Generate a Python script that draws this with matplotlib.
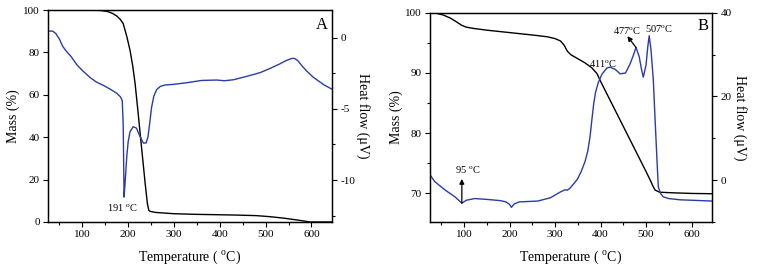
import matplotlib
matplotlib.use('Agg')
import matplotlib.pyplot as plt
from matplotlib.ticker import MultipleLocator

plt.rcParams['font.family'] = ['Liberation Serif', 'DejaVu Serif']
plt.rcParams['mathtext.fontset'] = 'custom'
plt.rcParams['mathtext.rm'] = 'Liberation Serif'
plt.rcParams['axes.unicode_minus'] = False

BLUE = '#2a3ca6'

# Panel A - mass loss (left axis) and heat flow (right axis)
a_mass_t = [25, 100, 140, 155, 165, 175, 183, 189, 197, 204, 210, 215, 220, 226, 232,
            237, 242, 245, 248, 260, 300, 350, 430, 480, 510, 540, 560, 580, 597, 645]
a_mass = [100, 100, 99.8, 99.3, 98.5, 97.2, 95.5, 93.7, 87.5, 81, 73.5, 65.4, 55, 42, 29,
          18.3, 8.5, 5.5, 5.0, 4.5, 3.9, 3.6, 3.3, 3.0, 2.5, 1.8, 1.2, 0.6, 0.0, 0.0]

a_heat_t = [25, 35, 42, 50, 57, 65, 75, 88, 100, 117, 130, 146, 160, 175, 183, 187, 189,
            190, 191, 193, 195, 197, 200, 204, 211, 218, 226, 233, 239, 243, 247, 251, 256,
            262, 270, 280, 300, 330, 360, 393, 410, 430, 460, 488, 510, 530, 545, 557, 563,
            570, 580, 590, 605, 627, 645]
a_heat = [0.47, 0.47, 0.3, -0.1, -0.6, -0.95, -1.3, -1.9, -2.3, -2.8, -3.1, -3.35, -3.6,
          -3.9, -4.15, -4.4, -6.0, -8.5, -11.2, -10.3, -9.3, -8.3, -7.3, -6.6, -6.25, -6.35,
          -6.95, -7.4, -7.4, -7.0, -6.0, -4.9, -4.1, -3.65, -3.42, -3.32, -3.27, -3.15, -3.0,
          -2.97, -3.02, -2.95, -2.7, -2.45, -2.15, -1.85, -1.6, -1.45, -1.45, -1.6, -2.0,
          -2.35, -2.8, -3.3, -3.62]

# Panel B
b_mass_t = [25, 40, 55, 70, 85, 95, 105, 120, 150, 200, 250, 283, 300, 312, 320, 327, 335,
            349, 365, 380, 392, 400, 420, 440, 460, 480, 500, 509, 515, 520, 530, 560, 600, 645]
b_mass = [100, 99.9, 99.6, 99.1, 98.4, 97.9, 97.6, 97.4, 97.1, 96.7, 96.3, 96.0, 95.7, 95.3,
          94.6, 93.6, 93.0, 92.4, 91.7, 90.9, 89.9, 88.6, 85.6, 82.6, 79.6, 76.6, 73.6, 72.2,
          71.2, 70.5, 70.15, 70.05, 69.95, 69.9]

b_heat_t = [25, 28, 35, 45, 60, 80, 95, 105, 123, 150, 180, 192, 200, 204, 210, 221, 262,
            290, 312, 322, 327, 333, 340, 349, 358, 366, 372, 377, 381, 385, 389, 395, 403,
            414, 421, 432, 443, 455, 465, 472, 478, 485, 490, 494, 500, 504, 507, 511, 516,
            520, 524, 527, 532, 538, 550, 575, 600, 645]
b_heat = [1.4, 0.8, -0.3, -1.2, -2.5, -4.0, -5.5, -4.8, -4.4, -4.6, -4.9, -5.2, -5.8, -6.5,
          -5.7, -5.2, -5.0, -4.2, -2.8, -2.3, -2.4, -1.9, -1.0, 0.2, 2.2, 4.5, 7.0, 10.5,
          14.5, 18.3, 21, 23.3, 25.3, 26.8, 27.0, 26.5, 25.4, 25.6, 27.8, 29.8, 31.7, 29.5,
          26.5, 24.6, 27.5, 32, 34.5, 31, 24, 14.3, 5, -1.6, -3.2, -4, -4.4, -4.7, -4.8, -5.0]

TICK_FS = 8
NOTE_FS = 7.5
LABEL_FS = 10


def style_axis(ax):
    ax.tick_params(which='both', direction='out', labelsize=TICK_FS, top=False, width=0.8)
    ax.tick_params(which='major', length=3.5, pad=2.5)
    ax.tick_params(which='minor', length=2)
    for s in ax.spines.values():
        s.set_linewidth(0.9)


fig = plt.figure(figsize=(7.6, 2.7), dpi=100)

# ---- A ----
axA = fig.add_axes([0.0632, 0.1778, 0.3737, 0.785])
axA.plot(a_mass_t, a_mass, color='black', lw=1.0)
axA.set_xlim(25, 645)
axA.set_ylim(0, 100)
axA.xaxis.set_major_locator(MultipleLocator(100))
axA.xaxis.set_minor_locator(MultipleLocator(50))
axA.yaxis.set_major_locator(MultipleLocator(20))
axA.set_xlabel('Temperature ( $^{\\rm o}$C)', fontsize=LABEL_FS, va='center')
axA.set_ylabel('Mass (%)', fontsize=LABEL_FS, va='center')
axA.xaxis.set_label_coords(0.5, -0.165)
axA.yaxis.set_label_coords(-0.123, 0.5)
style_axis(axA)

axA2 = axA.twinx()
axA2.plot(a_heat_t, a_heat, color=BLUE, lw=1.0)
axA2.set_ylim(-12.95, 1.95)
axA2.yaxis.set_major_locator(MultipleLocator(5))
axA2.yaxis.set_minor_locator(MultipleLocator(2.5))
axA2.set_ylabel('Heat flow (μV)', fontsize=LABEL_FS, rotation=270, va='center')
axA2.yaxis.set_label_coords(1.109, 0.5)
style_axis(axA2)
axA2.text(0.986, 0.965, 'A', transform=axA.transAxes, ha='right', va='top', fontsize=12)
axA.text(186, 6.6, '191 $^{\\rm o}$C', ha='center', va='center', fontsize=NOTE_FS)

# ---- B ----
axB = fig.add_axes([0.5658, 0.1778, 0.371, 0.775])
axB.plot(b_mass_t, b_mass, color='black', lw=1.0)
axB.set_xlim(25, 645)
axB.set_ylim(65.2, 100)
axB.xaxis.set_major_locator(MultipleLocator(100))
axB.xaxis.set_minor_locator(MultipleLocator(50))
axB.yaxis.set_major_locator(MultipleLocator(10))
axB.yaxis.set_minor_locator(MultipleLocator(5))
axB.set_xlabel('Temperature ( $^{\\rm o}$C)', fontsize=LABEL_FS, va='center')
axB.set_ylabel('Mass (%)', fontsize=LABEL_FS, va='center')
axB.xaxis.set_label_coords(0.5, -0.167)
axB.yaxis.set_label_coords(-0.12, 0.5)
style_axis(axB)

axB2 = axB.twinx()
axB2.plot(b_heat_t, b_heat, color=BLUE, lw=1.0)
axB2.set_ylim(-10, 40)
axB2.yaxis.set_major_locator(MultipleLocator(20))
axB2.yaxis.set_minor_locator(MultipleLocator(10))
axB2.set_ylabel('Heat flow (μV)', fontsize=LABEL_FS, rotation=270, va='center')
axB2.yaxis.set_label_coords(1.099, 0.5)
style_axis(axB2)
axB2.text(0.986, 0.975, 'B', transform=axB.transAxes, ha='right', va='top', fontsize=12)

arrow = dict(arrowstyle='-|>', color='black', lw=0.9, mutation_scale=7, shrinkA=0, shrinkB=0)
axB2.annotate('', xy=(95, 0.3), xytext=(95, -5.5), arrowprops=arrow)
axB2.text(108, 1.0, '95 $^{\\rm o}$C', ha='center', va='bottom', fontsize=NOTE_FS)
axB2.annotate('', xy=(459, 34.4), xytext=(478, 31.7), arrowprops=arrow)
axB2.text(458, 35.7, '477$^{\\rm o}$C', ha='center', va='center', fontsize=NOTE_FS)
axB2.text(529, 36.1, '507$^{\\rm o}$C', ha='center', va='center', fontsize=NOTE_FS)
axB2.text(406, 27.8, '411$^{\\rm o}$C', ha='center', va='center', fontsize=NOTE_FS)

fig.savefig('out.png', dpi=100)
